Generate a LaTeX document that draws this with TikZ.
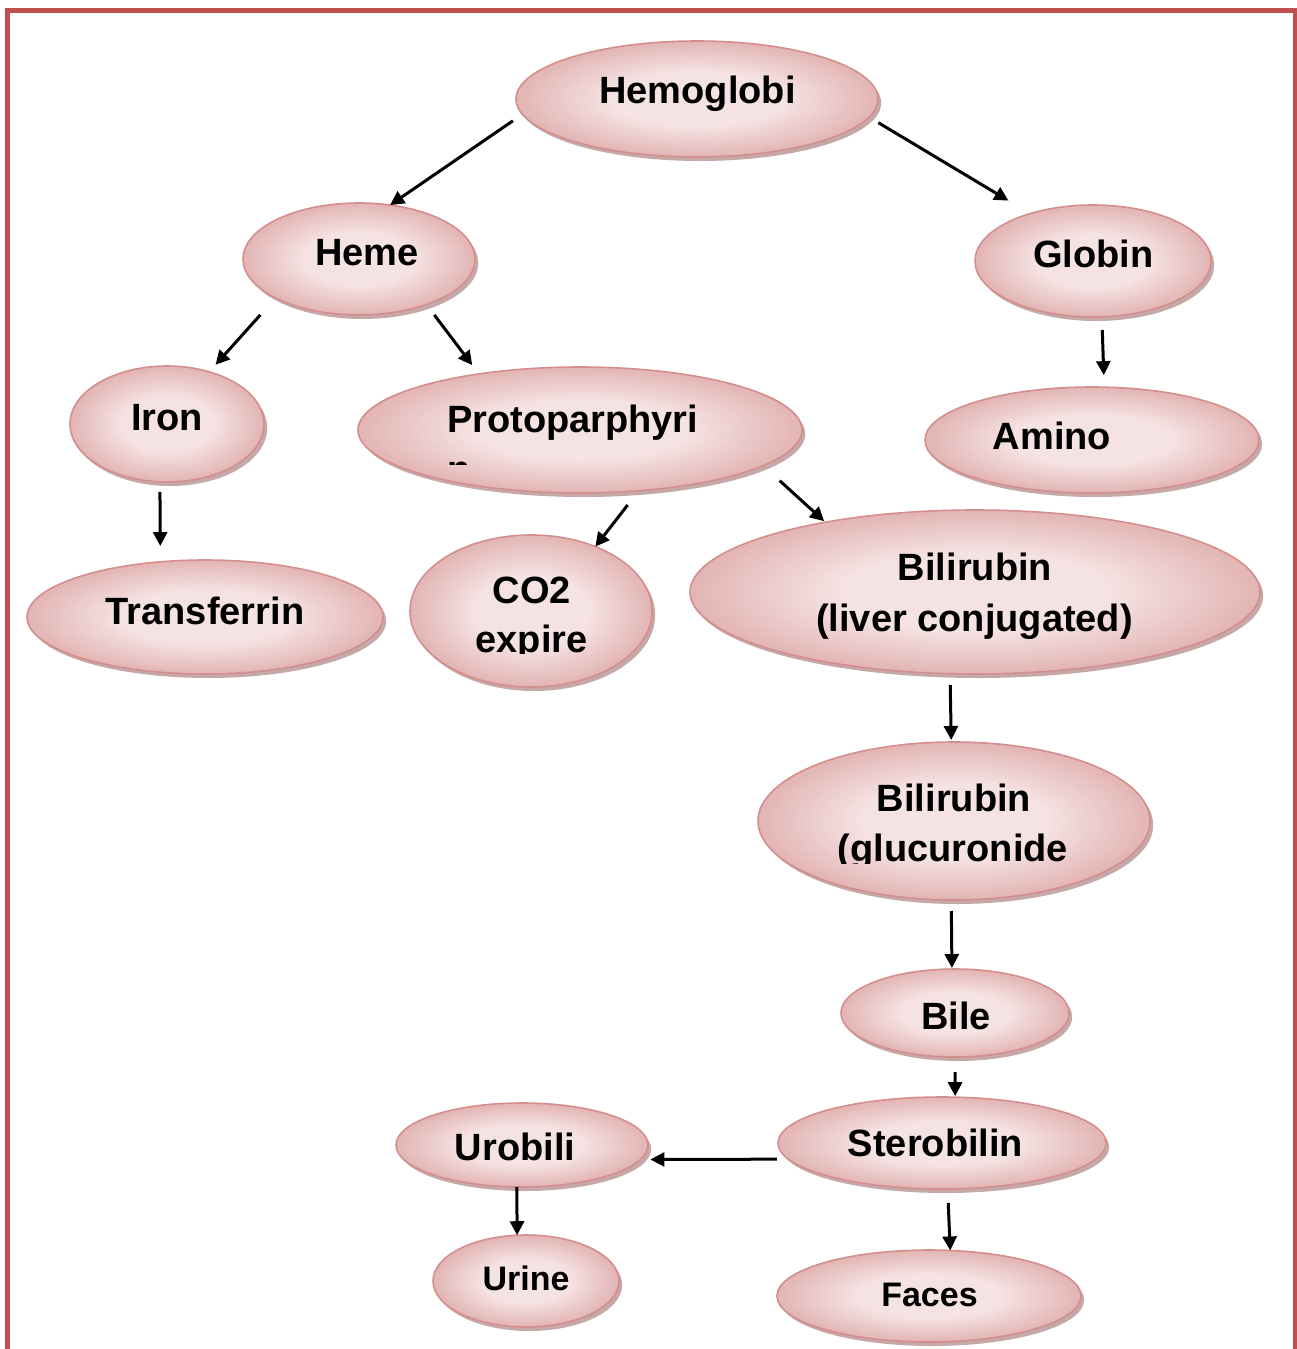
\documentclass[tikz,border=0pt]{standalone}
\usepackage{fontspec}
\setmainfont{Liberation Sans}
\usetikzlibrary{shapes.geometric,shadows,arrows.meta}
\definecolor{pinkA}{HTML}{F5E2E2}
\definecolor{pinkB}{HTML}{E3B4B4}
\definecolor{bordc}{HTML}{D48E8D}
\definecolor{shadc}{HTML}{9E6E6E}
\definecolor{framec}{HTML}{C0504D}
\pgfdeclareradialshading{blobshade}{\pgfpoint{0bp}{0bp}}{color(0bp)=(pinkA); color(12bp)=(pinkA); color(25bp)=(pinkB); color(50bp)=(pinkB)}
\tikzset{
  blob/.style={ellipse, draw=bordc, line width=0.8pt, shading=blobshade,
    inner sep=0pt, outer sep=0pt,
    drop shadow={shadow xshift=1.6pt, shadow yshift=-2pt, fill=shadc, opacity=0.6}},
  lbl/.style={anchor=base, inner sep=0pt, outer sep=0pt,
    font=\fontsize{19}{23}\selectfont\bfseries, text=black},
  lblsmall/.style={lbl, font=\fontsize{17}{21}\selectfont\bfseries},
  arr/.style={line width=1.5pt, -{Triangle[length=7pt,width=7pt]}},
  frame/.style={draw=framec, line width=2.5pt}
}
\begin{document}
\begin{tikzpicture}[x=0.5pt, y=-0.5pt]
\useasboundingbox (0,0) rectangle (1296,1349);
\draw[frame] (7.5,1360) -- (7.5,10) -- (1295,10) -- (1295,1360);

% ellipses
\node[blob, minimum width=181pt, minimum height=58pt] (hemo) at (697,99) {};
\node[blob, minimum width=116pt, minimum height=56pt] (heme) at (359,259) {};
\node[blob, minimum width=118pt, minimum height=56pt] (globin) at (1093,261) {};
\node[blob, minimum width=97pt, minimum height=58pt] (iron) at (167,424) {};
\node[blob, minimum width=222pt, minimum height=63pt] (proto) at (580,430) {};
\node[blob, minimum width=167pt, minimum height=53pt] (amino) at (1092,440) {};
\node[blob, minimum width=178pt, minimum height=57pt] (transf) at (205,617) {};
\node[blob, minimum width=121pt, minimum height=76pt] (co2) at (531,611) {};
\node[blob, minimum width=285pt, minimum height=82pt] (bililiv) at (975,592) {};
\node[blob, minimum width=196pt, minimum height=79pt] (biliglu) at (954,821) {};
\node[blob, minimum width=114pt, minimum height=44pt] (bile) at (955,1013) {};
\node[blob, minimum width=164pt, minimum height=46pt] (sterob) at (942,1143) {};
\node[blob, minimum width=126pt, minimum height=42pt] (urobili) at (522,1145) {};
\node[blob, minimum width=93pt, minimum height=46pt] (urine) at (526,1281) {};
\node[blob, minimum width=152pt, minimum height=46pt] (faces) at (929,1296) {};

% labels
\node[lbl] (hemo-t) at (697.5,103.5) {Hemoglobi};
\node[lbl] (heme-t) at (367,265.5) {Heme};
\node[lbl] (globin-t) at (1093.5,267.5) {Globin};
\node[lbl] (iron-t) at (167,430.5) {Iron};
\node[lbl, anchor=base west] (proto-t) at (447,432.5) {Protoparphyri};
\begin{scope}
  \clip (0,0) rectangle (1296,464);
  \node[lbl, anchor=base west] (proto-t2) at (447,482.5) {n};
\end{scope}
\node[lbl] (amino-t) at (1052,449.5) {Amino};
\node[lbl] (transf-t) at (205,624.5) {Transferrin};
\node[lbl] (co2-t) at (532,603.5) {CO2};
\begin{scope}
  \clip (0,0) rectangle (1296,653);
  \node[lbl] (co2-t2) at (531.5,652.5) {expire};
\end{scope}
\node[lbl] (bililiv-t) at (975,580.5) {Bilirubin};
\node[lbl] (bililiv-t2) at (974.5,631.5) {(liver conjugated)};
\node[lbl] (biliglu-t) at (954,811.5) {Bilirubin};
\begin{scope}
  \clip (0,0) rectangle (1296,863);
  \node[lbl] (biliglu-t2) at (953,861.5) {(glucuronide};
\end{scope}
\node[lbl] (bile-t) at (956,1029.5) {Bile};
\node[lbl] (sterob-t) at (935.5,1156.5) {Sterobilin};
\node[lbl] (urobili-t) at (515,1160.5) {Urobili};
\node[lblsmall] (urine-t) at (526,1290) {Urine};
\node[lblsmall] (faces-t) at (929.5,1306) {Faces};

% arrows
\draw[arr, shorten <=5.75pt] (hemo.185.9) -- (heme.60);
\draw[arr, shorten <=5.45pt, shorten >=12.65pt] (hemo.-6.1) -- (globin.143.9);
\draw[arr, shorten <=11.4pt, shorten >=4.7pt] (heme.205) -- (iron.51);
\draw[arr, shorten <=6.5pt, shorten >=5.5pt] (heme.-34) -- (proto.151);
\draw[arr, shorten <=6.6pt, shorten >=6pt] (globin.-81) -- (amino.77);
\draw[arr, shorten <=5pt, shorten >=7.9pt] (iron.263) -- (transf.129);
\draw[arr, shorten <=9pt] (proto.-46) -- (co2.45);
\draw[arr, shorten <=11.2pt, shorten >=0.8pt] (proto.-11) -- (bililiv.155);
\draw[arr, shorten <=5.6pt, shorten >=1pt] (bililiv.253) -- (biliglu.92);
\draw[arr, shorten <=5.5pt, shorten >=0.5pt] (biliglu.268) -- (bile.94);
\draw[arr, shorten <=7.5pt, shorten >=0.5pt] (bile.270) -- (sterob.74);
\draw[arr, shorten <=5.8pt, shorten >=5.1pt] (sterob.186.4) -- (urobili.-7.3);
\draw[arr] (urobili.263) -- (urine.101);
\draw[arr, shorten <=7pt] (sterob.277) -- (faces.65);
\end{tikzpicture}
\end{document}
